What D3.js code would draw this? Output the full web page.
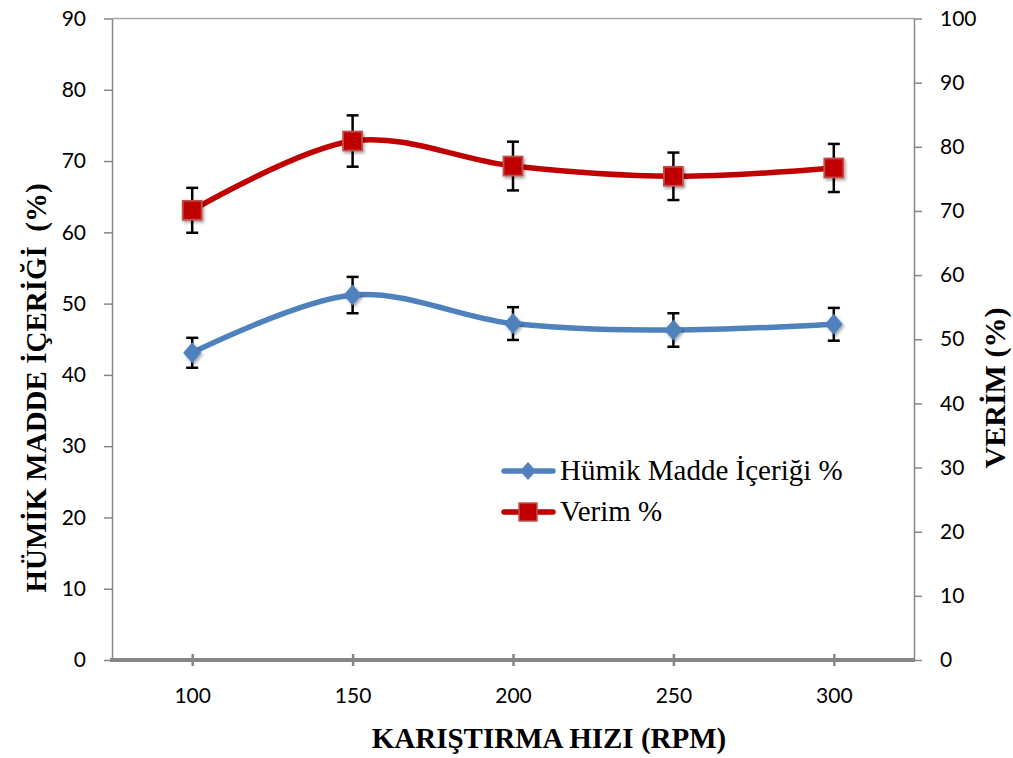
<!DOCTYPE html>
<html><head><meta charset="utf-8">
<script src="https://cdn.jsdelivr.net/npm/d3@7"></script>
<style>body{margin:0;background:#fff}svg{display:block}</style>
</head><body>
<svg id="c" width="1013" height="758"></svg>
<script>
const categories = ["100","150","200","250","300"];
const humik = [43.1, 51.2, 47.2, 46.3, 47.1];
const humikErr = [2.1, 2.55, 2.3, 2.35, 2.3];
const verim = [70.1, 80.9, 77.0, 75.4, 76.7];
const verimErr = [3.5, 4.0, 3.8, 3.7, 3.75];
const leftTicks = [0,10,20,30,40,50,60,70,80,90];
const rightTicks = [0,10,20,30,40,50,60,70,80,90,100];
const seriesNames = ["Hümik Madde İçeriği %", "Verim %"];
const xTitle = "KARIŞTIRMA HIZI (RPM)";
const yLeftTitle = "HÜMİK MADDE İÇERİĞİ  (%)";
const yRightTitle = "VERİM (%)";

const svg = d3.select("#c");
const L = 112, R = 914, T = 18.5, B = 660;
const x = d3.scalePoint().domain(categories).range([L, R]).padding(0.5);
const yL = d3.scaleLinear().domain([0, 90]).range([B, T]);
const yR = d3.scaleLinear().domain([0, 100]).range([B, T]);
const tickFont = "Lato, 'Open Sans', sans-serif";
const serif = "'Liberation Serif', 'Times New Roman', serif";
const axisGray = "#868686";

const defs = svg.append("defs");
const f = defs.append("filter").attr("id","sh").attr("x","-50%").attr("y","-50%").attr("width","200%").attr("height","200%");
f.append("feDropShadow").attr("dx",1.5).attr("dy",2).attr("stdDeviation",1.5).attr("flood-color","#000").attr("flood-opacity",0.35);

// top border
svg.append("line").attr("x1",L).attr("x2",R).attr("y1",T).attr("y2",T).attr("stroke","#a6a6a6").attr("stroke-width",1.5);

// left axis
const gl = svg.append("g").attr("transform",`translate(${L},0)`).call(d3.axisLeft(yL).tickValues(leftTicks).tickSize(8).tickPadding(18).tickSizeOuter(0));
gl.select(".domain").attr("stroke",axisGray).attr("stroke-width",1.5);
gl.selectAll(".tick line").attr("stroke",axisGray).attr("stroke-width",1.5);
gl.selectAll(".tick text").attr("font-family",tickFont).attr("font-size",21).attr("fill","#000");

// right axis
const gr = svg.append("g").attr("transform",`translate(${R},0)`).call(d3.axisRight(yR).tickValues(rightTicks).tickSize(8).tickPadding(18).tickSizeOuter(0));
gr.select(".domain").attr("stroke",axisGray).attr("stroke-width",1.5);
gr.selectAll(".tick line").attr("stroke",axisGray).attr("stroke-width",1.5);
gr.selectAll(".tick text").attr("font-family",tickFont).attr("font-size",21).attr("fill","#000");

// bottom axis
const gb = svg.append("g").attr("transform",`translate(0,${B})`).call(d3.axisBottom(x).tickSize(0).tickPadding(28).tickSizeOuter(0));
gb.select(".domain").remove();
gb.append("line").attr("x1",L-2).attr("x2",R+1).attr("stroke",axisGray).attr("stroke-width",4);
gb.selectAll(".tick").append("line").attr("y1",-6).attr("y2",6).attr("stroke",axisGray).attr("stroke-width",2.5);
gb.selectAll(".tick text").attr("font-family",tickFont).attr("font-size",21).attr("fill","#000");

// titles
svg.append("text").attr("x",549).attr("y",748).attr("text-anchor","middle").attr("font-family",serif).attr("font-weight","bold").attr("font-size",29).text(xTitle);
svg.append("text").attr("transform","translate(46,388) rotate(-90)").attr("text-anchor","middle").attr("font-family",serif).attr("font-weight","bold").attr("font-size",29).style("white-space","pre").text(yLeftTitle);
svg.append("text").attr("transform","translate(1005,388) rotate(-90)").attr("text-anchor","middle").attr("font-family",serif).attr("font-weight","bold").attr("font-size",30).text(yRightTitle);

const curve = d3.curveCatmullRom.alpha(0);
function drawSeries(vals, errs, ys, color, kind){
  const line = d3.line().x((d,i)=>x(categories[i])).y(d=>ys(d)).curve(curve);
  svg.append("path").datum(vals).attr("d",line).attr("fill","none").attr("stroke",color).attr("stroke-width",5.5).attr("stroke-linecap","round");
  const g = svg.append("g");
  vals.forEach((v,i)=>{
    const cx = x(categories[i]);
    const y1 = ys(v+errs[i]), y2 = ys(v-errs[i]);
    g.append("line").attr("x1",cx).attr("x2",cx).attr("y1",y1).attr("y2",y2).attr("stroke","#000").attr("stroke-width",2.5);
    g.append("line").attr("x1",cx-6).attr("x2",cx+6).attr("y1",y1).attr("y2",y1).attr("stroke","#000").attr("stroke-width",2.5);
    g.append("line").attr("x1",cx-6).attr("x2",cx+6).attr("y1",y2).attr("y2",y2).attr("stroke","#000").attr("stroke-width",2.5);
  });
  vals.forEach((v,i)=>{
    const cx = x(categories[i]), cy = ys(v);
    drawMarker(cx, cy, kind, 1);
  });
}
function drawMarker(cx, cy, kind, s){
  if(kind==="diamond"){
    svg.append("path").attr("d",`M${cx},${cy-10.5*s}L${cx+9*s},${cy}L${cx},${cy+10.5*s}L${cx-9*s},${cy}Z`)
      .attr("fill","#4F81BD").attr("filter","url(#sh)");
  } else {
    const h = 9.5*s;
    svg.append("rect").attr("x",cx-h).attr("y",cy-h).attr("width",2*h).attr("height",2*h)
      .attr("fill","#C00000").attr("stroke","#C0504D").attr("stroke-width",1.8).attr("filter","url(#sh)");
  }
}
drawSeries(humik, humikErr, yL, "#4F81BD", "diamond");
drawSeries(verim, verimErr, yR, "#C00000", "square");

// legend
const leg = [{name:seriesNames[0],color:"#4F81BD",kind:"diamond",y:471,ty:480},{name:seriesNames[1],color:"#C00000",kind:"square",y:512,ty:521}];
leg.forEach(d=>{
  svg.append("line").attr("x1",504).attr("x2",553).attr("y1",d.y).attr("y2",d.y).attr("stroke",d.color).attr("stroke-width",5.5).attr("stroke-linecap","round");
  if(d.kind==="diamond"){
    svg.append("path").attr("d",`M528,${d.y-9}L536,${d.y}L528,${d.y+9}L520,${d.y}Z`).attr("fill","#4F81BD");
  } else {
    svg.append("rect").attr("x",519).attr("y",d.y-9).attr("width",18).attr("height",18).attr("fill","#C00000").attr("stroke","#C0504D").attr("stroke-width",1.5);
  }
  svg.append("text").attr("x",560).attr("y",d.ty).attr("font-family",serif).attr("font-size",29).attr("fill","#000").text(d.name);
});
</script>
</body></html>
